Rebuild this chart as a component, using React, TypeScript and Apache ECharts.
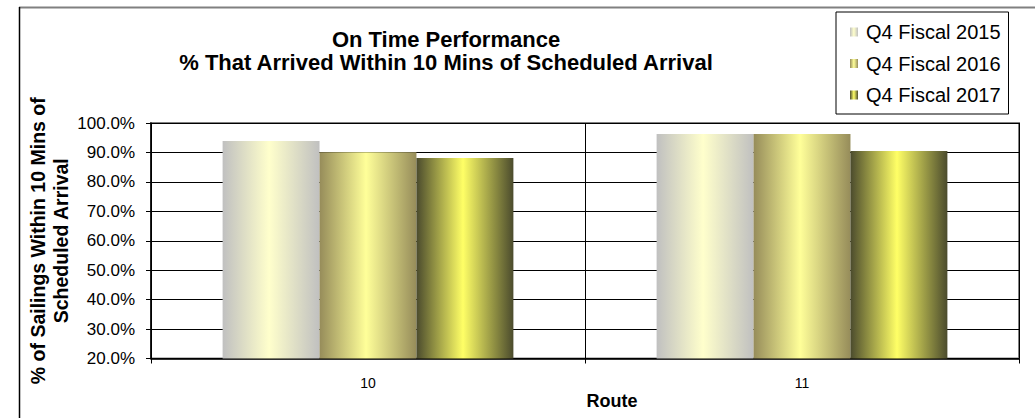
import React, { useEffect, useRef } from "react";
import * as echarts from "echarts";

const routes = ["10", "11"];
const seriesNames = ["Q4 Fiscal 2015", "Q4 Fiscal 2016", "Q4 Fiscal 2017"];
const fy2015 = [93.9, 96.3];
const fy2016 = [90.1, 96.3];
const fy2017 = [88.1, 90.5];
const yTicks = { min: 20, max: 100, step: 10 };

const FONT = "'Liberation Sans', Arial, Helvetica, sans-serif";

const grad = (edge: string, mid: string) =>
  new echarts.graphic.LinearGradient(0, 0, 1, 0, [
    { offset: 0, color: edge },
    { offset: 0.48, color: mid },
    { offset: 1, color: edge },
  ]);

export default function App() {
  const ref = useRef<HTMLDivElement>(null);
  useEffect(() => {
    if (!ref.current) return;
    const chart = echarts.init(ref.current, null, { renderer: "svg" });
    const values = [fy2015, fy2016, fy2017];
    const fills = [
      grad("#c0c0c0", "#ffffcc"),
      grad("#968c5a", "#ffff99"),
      grad("#4b4b2d", "#ffff66"),
    ];
    chart.setOption({
      animation: false,
      backgroundColor: "#ffffff",
      textStyle: { fontFamily: FONT },
      graphic: [
        { type: "line", shape: { x1: 19, y1: 7.5, x2: 1040, y2: 7.5 }, style: { stroke: "#808080", lineWidth: 2 } },
        { type: "line", shape: { x1: 19.5, y1: 7, x2: 19.5, y2: 420 }, style: { stroke: "#000000", lineWidth: 1.5 } },
        {
          type: "text",
          x: 446,
          y: 51,
          style: {
            text: "On Time Performance\n% That Arrived Within 10 Mins of Scheduled Arrival",
            align: "center",
            verticalAlign: "middle",
            fontSize: 22,
            fontWeight: "bold",
            fontFamily: FONT,
            lineHeight: 23,
            fill: "#000",
          },
        },
        {
          type: "text",
          x: 612,
          y: 401,
          style: {
            text: "Route",
            align: "center",
            verticalAlign: "middle",
            fontSize: 18,
            fontWeight: "bold",
            fontFamily: FONT,
            fill: "#000",
          },
        },
      ],
      legend: {
        orient: "vertical",
        left: 836,
        top: 12,
        data: seriesNames,
        borderColor: "#000",
        borderWidth: 1,
        padding: [10, 8, 9, 14],
        itemWidth: 8,
        itemHeight: 9,
        itemGap: 11.5,
        icon: "rect",
        textStyle: { fontSize: 20, color: "#000", fontFamily: FONT, lineHeight: 20, padding: [0, 0, 0, 3] },
      },
      grid: {
        left: 151,
        top: 123,
        right: 16,
        bottom: 59.5,
        show: true,
        borderColor: "#808080",
        borderWidth: 2,
        containLabel: false,
      },
      xAxis: {
        type: "category",
        data: routes,
        axisLine: { lineStyle: { color: "#000", width: 1.5 } },
        axisTick: { show: true, length: 5, lineStyle: { color: "#000" } },
        axisLabel: { fontSize: 14, color: "#000", margin: 17, fontFamily: FONT },
        splitLine: { show: true, lineStyle: { color: "#000", width: 1 } },
      },
      yAxis: {
        type: "value",
        min: yTicks.min,
        max: yTicks.max,
        interval: yTicks.step,
        name: "% of Sailings Within 10 Mins of\nScheduled Arrival",
        nameLocation: "middle",
        nameRotate: 90,
        nameGap: 79,
        nameMoveOverlap: false,
        nameTextStyle: { fontSize: 19.5, fontWeight: "bold", color: "#000", lineHeight: 23, fontFamily: FONT },
        axisLine: { show: true, lineStyle: { color: "#000", width: 1.5 } },
        axisTick: { show: true, length: 5, lineStyle: { color: "#000" } },
        axisLabel: {
          fontSize: 17,
          color: "#000",
          margin: 16,
          fontFamily: FONT,
          formatter: (v: number) => v.toFixed(1) + "%",
        },
        splitLine: { show: true, lineStyle: { color: "#000", width: 1 } },
      },
      series: seriesNames.map((name, i) => ({
        name,
        type: "bar",
        data: values[i],
        barGap: "0%",
        barCategoryGap: "33%",
        itemStyle: { color: fills[i] },
      })),
    });
    return () => chart.dispose();
  }, []);
  return (
    <div
      ref={ref}
      style={{ position: "fixed", left: 0, top: 0, width: 1035, height: 418 }}
    />
  );
}
